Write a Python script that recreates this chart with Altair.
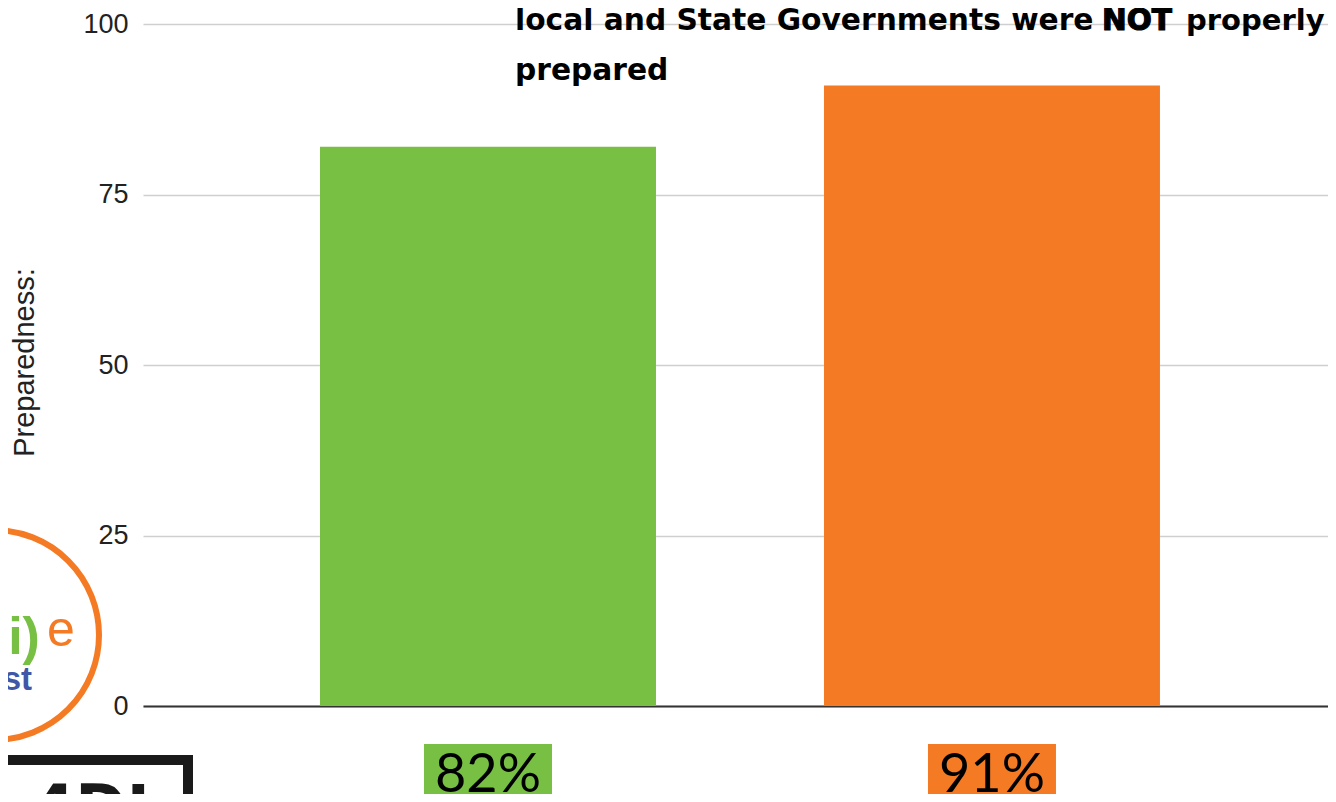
import altair as alt
import pandas as pd

# ---- data ----
categories = ["Local Governments", "State Governments"]
values = [82, 91]
bar_colors = ["#77c043", "#f47a23"]
value_labels = ["82%", "91%"]
y_ticks = [0, 25, 50, 75, 100]
y_title = "Preparedness:"
title_parts = ["local and State Governments were", "NOT", "properly"]
title_line2 = "prepared"
logo_texts = ["i)", "e", "st"]
box_text = "4DJ"

df = pd.DataFrame({"cat": categories, "value": values, "label": value_labels})

W, H = 1185, 682
ORANGE = "#f47a23"
GREEN = "#77c043"
BLUE = "#3f57a6"

xscale = alt.Scale(domain=categories, paddingInner=1 / 3, paddingOuter=0.3423, align=0.513)
x_enc = alt.X(
    "cat:N",
    scale=xscale,
    axis=alt.Axis(labels=False, ticks=False, title=None, domain=True,
                  domainColor="#333333", domainWidth=2, grid=False),
)
color_enc = alt.Color("cat:N", scale=alt.Scale(domain=categories, range=bar_colors), legend=None)

base = alt.Chart(df)

bars = base.mark_bar().encode(
    x=x_enc,
    y=alt.Y(
        "value:Q",
        scale=alt.Scale(domain=[0, 100]),
        axis=alt.Axis(
            values=y_ticks, grid=True, gridColor="#cfcfcf", gridWidth=1.6,
            domain=False, ticks=False, labelPadding=15,
            labelFont="Liberation Sans", labelFontSize=27, labelColor="#222222",
            title=y_title, titleFont="Liberation Sans", titleFontSize=29,
            titleFontWeight="normal", titleColor="#222222",
            titleX=-104, titleY=338,
        ),
    ),
    color=color_enc,
)

boxes = base.mark_bar(size=128).encode(
    x=x_enc, y=alt.value(720), y2=alt.value(800), color=color_enc
)

pcts = base.mark_text(font="Lato", fontSize=54, baseline="alphabetic", color="black").encode(
    x=x_enc, y=alt.value(768), text="label:N"
)


def txt(s, x, y, **kw):
    return alt.Chart(pd.DataFrame({"t": [s]})).mark_text(**kw).encode(
        text="t:N", x=alt.value(x), y=alt.value(y)
    )


tfont = dict(font="DejaVu Sans", fontWeight="bold", align="left",
             baseline="alphabetic", color="black")
t1 = txt(title_parts[0], 372, 6, fontSize=29.7, **tfont)
t2 = txt(title_parts[1], 959, 6, fontSize=29.5, stroke="black", strokeWidth=1.2, **tfont)
t3 = txt(title_parts[2], 1043, 6, fontSize=29, **tfont)
t4 = txt(title_line2, 372, 56, fontSize=29.7, **tfont)

# logo (cropped at left edge)
circle = alt.Chart(pd.DataFrame({"t": [0]})).mark_point(
    shape="circle", filled=False, size=44100, strokeWidth=6, color=ORANGE, opacity=1
).encode(x=alt.value(-149), y=alt.value(611))
lg1 = txt(logo_texts[0], -119, 630, font="Liberation Sans", fontSize=52, fontWeight="bold",
          align="center", baseline="alphabetic", color=GREEN)
lg2 = txt(logo_texts[1], -82, 622, font="Liberation Sans", fontSize=50,
          align="center", baseline="alphabetic", color=ORANGE)
lg3 = txt(logo_texts[2], -111, 666, font="Liberation Sans", fontSize=33, fontWeight="bold",
          align="right", baseline="alphabetic", color=BLUE)

box = alt.Chart(pd.DataFrame({"t": [0]})).mark_rect(
    fill=None, stroke="#1a1a1a", strokeWidth=10, fillOpacity=0
).encode(x=alt.value(-160), x2=alt.value(45), y=alt.value(736), y2=alt.value(830))
boxt = txt(box_text, -52, 805, font="DejaVu Sans", fontSize=62, fontWeight="bold",
           align="center", baseline="alphabetic", color="#1a1a1a")

chart = alt.layer(
    bars, boxes, pcts, t1, t2, t3, t4, circle, lg1, lg2, lg3, box, boxt
).properties(
    width=W, height=H,
    padding={"left": 135, "top": 16, "right": 0, "bottom": 88},
    autosize=alt.AutoSizeParams(type="none"),
).configure_view(stroke=None)

chart.save("out.html", embed_options={"renderer": "svg", "actions": False})
